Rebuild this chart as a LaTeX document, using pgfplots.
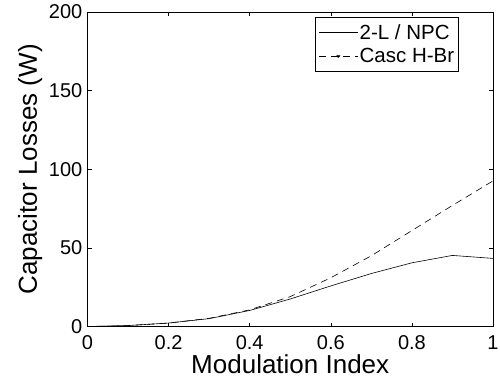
\documentclass[border=0pt]{standalone}
\usepackage{pgfplots}
\pgfplotsset{compat=1.18}
\usepackage{fontspec}
\setmainfont{Liberation Sans}
\pgfplotsset{
  legA/.style={legend image code/.code={\draw[##1] (0pt,0pt) -- (39pt,0pt);}},
  legB/.style={legend image code/.code={\draw[##1] (0pt,0pt) -- (39pt,0pt);
     \fill[black] (19.5pt,-1.2pt) -- (18pt,1pt) -- (21pt,1pt) -- cycle;}},
}
\begin{document}
\begin{tikzpicture}
\useasboundingbox (-87.5pt,-56.5pt) rectangle (412.5pt,326.5pt);
\begin{axis}[
  at={(0,0)}, anchor=south west,
  scale only axis, width=405.5pt, height=314.5pt,
  xmin=0, xmax=1, ymin=0, ymax=200,
  xtick={0,0.2,0.4,0.6,0.8,1}, ytick={0,50,100,150,200},
  tick align=inside, major tick length=4pt,
  tick style={black, line width=0.5pt},
  axis line style={line width=0.8pt},
  ticklabel style={font=\fontsize{20}{22}\selectfont},
  /pgf/number format/assume math mode=true,
  xticklabel style={anchor=north, inner sep=0pt, yshift=-9pt},
  yticklabel style={anchor=east, inner sep=0pt, xshift=-5pt},
  xlabel={Modulation Index}, ylabel={Capacitor Losses (W)},
  label style={font=\fontsize{26}{28}\selectfont, inner sep=0pt},
  xlabel style={at={(axis description cs:0.5,0)}, anchor=base, yshift=-47pt},
  ylabel style={at={(axis description cs:0,0.5)}, anchor=base, yshift=50.5pt},
  legend style={at={(1,1)}, anchor=north east, xshift=-34pt, yshift=-5pt,
    font=\fontsize{20.5}{22}\selectfont, draw=black, line width=0.6pt,
    inner xsep=3pt, inner ysep=5pt, row sep=4pt,
    nodes={inner xsep=1.5pt}},
  legend cell align=left,
]
\addplot[black, line width=0.6pt, legA] coordinates {
  (0,0) (0.1,0.6) (0.2,2.2) (0.3,5.0) (0.4,10.2) (0.5,17.5) (0.6,25.8) (0.7,33.7) (0.8,40.5) (0.9,45.2) (1,43.3)
};
\addlegendentry{2-L / NPC}
\addplot[black, line width=0.6pt, dash pattern=on 7pt off 5pt, legB] coordinates {
  (0,0) (0.1,0.6) (0.2,2.2) (0.3,5.2) (0.4,10.6) (0.5,19) (0.6,31) (0.7,45) (0.8,61) (0.9,77) (1,92.6)
};
\addlegendentry{Casc H-Br}
\end{axis}
\end{tikzpicture}
\end{document}
